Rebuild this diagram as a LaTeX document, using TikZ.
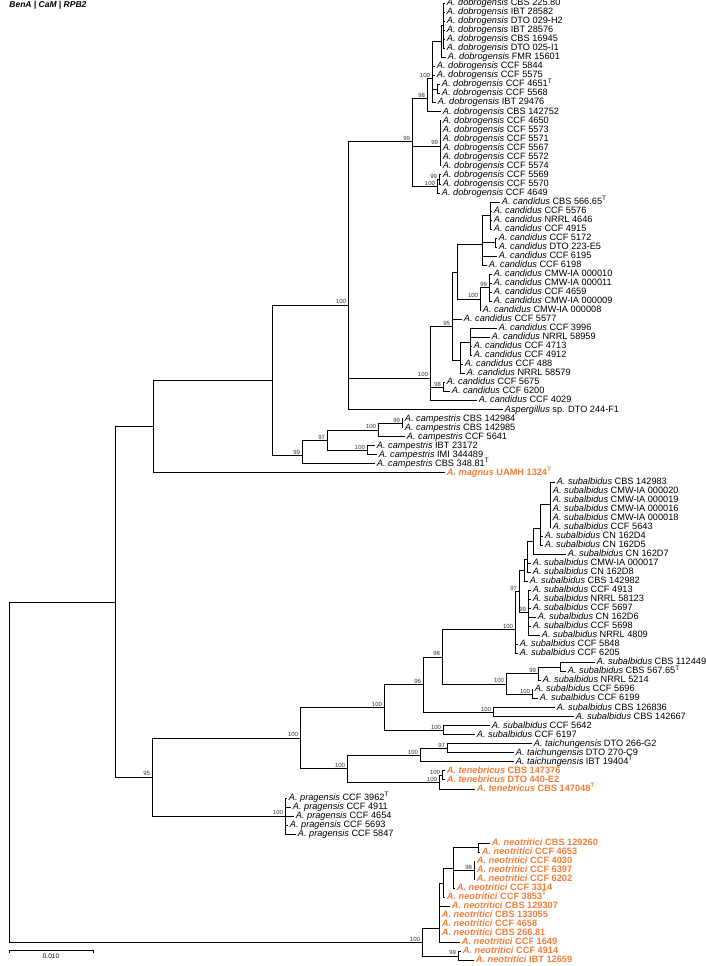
\documentclass[tikz,border=0pt]{standalone}
\usepackage{fontspec}
\setmainfont{Liberation Sans}
\definecolor{neworange}{RGB}{240,125,55}
\tikzset{
  leaf/.style={anchor=west, inner sep=1.5pt, text height=6.6pt, text depth=1.9pt, font=\fontsize{9.2}{10}\selectfont},
  newleaf/.style={leaf, text=neworange, font=\fontsize{9.2}{10}\selectfont\bfseries},
  bs/.style={anchor=south east, inner sep=0.6pt, xshift=-1pt, font=\fontsize{6}{6}\selectfont, text=black!80}
}
\newcommand\spc[1]{\textit{#1}}
\newcommand\tp{\textsuperscript{T}}
\begin{document}
\begin{tikzpicture}[x=1pt, y=-9.03pt, line width=0.8pt]
\useasboundingbox (0,0.6346) rectangle (705,107.61);
\node[anchor=west, inner sep=0, font=\fontsize{8.5}{9}\selectfont\bfseries\itshape] (title) at (9,1.2) {BenA | CaM | RPB2};

% leaves
\node[leaf] (l1) at (445,1) {\spc{A. dobrogensis} CBS 225.80};
\node[leaf] (l2) at (445,2) {\spc{A. dobrogensis} IBT 28582};
\node[leaf] (l3) at (445,3) {\spc{A. dobrogensis} DTO 029-H2};
\node[leaf] (l4) at (445,4) {\spc{A. dobrogensis} IBT 28576};
\node[leaf] (l5) at (445,5) {\spc{A. dobrogensis} CBS 16945};
\node[leaf] (l6) at (445,6) {\spc{A. dobrogensis} DTO 025-I1};
\node[leaf] (l7) at (446,7) {\spc{A. dobrogensis} FMR 15601};
\node[leaf] (l8) at (435,8) {\spc{A. dobrogensis} CCF 5844};
\node[leaf] (l9) at (435,9) {\spc{A. dobrogensis} CCF 5575};
\node[leaf] (l10) at (440,10) {\spc{A. dobrogensis} CCF 4651\tp};
\node[leaf] (l11) at (440,11) {\spc{A. dobrogensis} CCF 5568};
\node[leaf] (l12) at (436,12) {\spc{A. dobrogensis} IBT 29476};
\node[leaf] (l13) at (441,13) {\spc{A. dobrogensis} CBS 142752};
\node[leaf] (l14) at (441,14) {\spc{A. dobrogensis} CCF 4650};
\node[leaf] (l15) at (441,15) {\spc{A. dobrogensis} CCF 5573};
\node[leaf] (l16) at (441,16) {\spc{A. dobrogensis} CCF 5571};
\node[leaf] (l17) at (441,17) {\spc{A. dobrogensis} CCF 5567};
\node[leaf] (l18) at (441,18) {\spc{A. dobrogensis} CCF 5572};
\node[leaf] (l19) at (441,19) {\spc{A. dobrogensis} CCF 5574};
\node[leaf] (l20) at (441,20) {\spc{A. dobrogensis} CCF 5569};
\node[leaf] (l21) at (441,21) {\spc{A. dobrogensis} CCF 5570};
\node[leaf] (l22) at (440,22) {\spc{A. dobrogensis} CCF 4649};
\node[leaf] (l23) at (500,23) {\spc{A. candidus} CBS 566.65\tp};
\node[leaf] (l24) at (492,24) {\spc{A. candidus} CCF 5576};
\node[leaf] (l25) at (492,25) {\spc{A. candidus} NRRL 4646};
\node[leaf] (l26) at (492,26) {\spc{A. candidus} CCF 4915};
\node[leaf] (l27) at (497,27) {\spc{A. candidus} CCF 5172};
\node[leaf] (l28) at (497,28) {\spc{A. candidus} DTO 223-E5};
\node[leaf] (l29) at (497,29) {\spc{A. candidus} CCF 6195};
\node[leaf] (l30) at (487,30) {\spc{A. candidus} CCF 6198};
\node[leaf] (l31) at (492,31) {\spc{A. candidus} CMW-IA 000010};
\node[leaf] (l32) at (492,32) {\spc{A. candidus} CMW-IA 000011};
\node[leaf] (l33) at (492,33) {\spc{A. candidus} CCF 4659};
\node[leaf] (l34) at (492,34) {\spc{A. candidus} CMW-IA 000009};
\node[leaf] (l35) at (481,35) {\spc{A. candidus} CMW-IA 000008};
\node[leaf] (l36) at (462,36) {\spc{A. candidus} CCF 5577};
\node[leaf] (l37) at (497,37) {\spc{A. candidus} CCF 3996};
\node[leaf] (l38) at (490,38) {\spc{A. candidus} NRRL 58959};
\node[leaf] (l39) at (472,39) {\spc{A. candidus} CCF 4713};
\node[leaf] (l40) at (472,40) {\spc{A. candidus} CCF 4912};
\node[leaf] (l41) at (463,41) {\spc{A. candidus} CCF 488};
\node[leaf] (l42) at (465,42) {\spc{A. candidus} NRRL 58579};
\node[leaf] (l43) at (445,43) {\spc{A. candidus} CCF 5675};
\node[leaf] (l44) at (450,44) {\spc{A. candidus} CCF 6200};
\node[leaf] (l45) at (477,45) {\spc{A. candidus} CCF 4029};
\node[leaf] (l46) at (503,46) {\spc{Aspergillus} sp. DTO 244-F1};
\node[leaf] (l47) at (403,47) {\spc{A. campestris} CBS 142984};
\node[leaf] (l48) at (403,48) {\spc{A. campestris} CBS 142985};
\node[leaf] (l49) at (405,49) {\spc{A. campestris} CCF 5641};
\node[leaf] (l50) at (375,50) {\spc{A. campestris} IBT 23172};
\node[leaf] (l51) at (377,51) {\spc{A. campestris} IMI 344489};
\node[leaf] (l52) at (375,52) {\spc{A. campestris} CBS 348.81\tp};
\node[newleaf] (l53) at (445,53) {\spc{A. magnus} UAMH 1324\tp};
\node[leaf] (l54) at (555,54) {\spc{A. subalbidus} CBS 142983};
\node[leaf] (l55) at (551,55) {\spc{A. subalbidus} CMW-IA 000020};
\node[leaf] (l56) at (551,56) {\spc{A. subalbidus} CMW-IA 000019};
\node[leaf] (l57) at (551,57) {\spc{A. subalbidus} CMW-IA 000016};
\node[leaf] (l58) at (551,58) {\spc{A. subalbidus} CMW-IA 000018};
\node[leaf] (l59) at (551,59) {\spc{A. subalbidus} CCF 5643};
\node[leaf] (l60) at (543,60) {\spc{A. subalbidus} CN 162D4};
\node[leaf] (l61) at (543,61) {\spc{A. subalbidus} CN 162D5};
\node[leaf] (l62) at (566,62) {\spc{A. subalbidus} CN 162D7};
\node[leaf] (l63) at (531,63) {\spc{A. subalbidus} CMW-IA 000017};
\node[leaf] (l64) at (531,64) {\spc{A. subalbidus} CN 162D8};
\node[leaf] (l65) at (528,65) {\spc{A. subalbidus} CBS 142982};
\node[leaf] (l66) at (531,66) {\spc{A. subalbidus} CCF 4913};
\node[leaf] (l67) at (531,67) {\spc{A. subalbidus} NRRL 58123};
\node[leaf] (l68) at (531,68) {\spc{A. subalbidus} CCF 5697};
\node[leaf] (l69) at (536,69) {\spc{A. subalbidus} CN 162D6};
\node[leaf] (l70) at (531,70) {\spc{A. subalbidus} CCF 5698};
\node[leaf] (l71) at (540,71) {\spc{A. subalbidus} NRRL 4809};
\node[leaf] (l72) at (518,72) {\spc{A. subalbidus} CCF 5848};
\node[leaf] (l73) at (518,73) {\spc{A. subalbidus} CCF 6205};
\node[leaf] (l74) at (595,74) {\spc{A. subalbidus} CBS 112449};
\node[leaf] (l75) at (566,75) {\spc{A. subalbidus} CBS 567.65\tp};
\node[leaf] (l76) at (541,76) {\spc{A. subalbidus} NRRL 5214};
\node[leaf] (l77) at (533,77) {\spc{A. subalbidus} CCF 5696};
\node[leaf] (l78) at (538,78) {\spc{A. subalbidus} CCF 6199};
\node[leaf] (l79) at (555,79) {\spc{A. subalbidus} CBS 126836};
\node[leaf] (l80) at (574,80) {\spc{A. subalbidus} CBS 142667};
\node[leaf] (l81) at (490,81) {\spc{A. subalbidus} CCF 5642};
\node[leaf] (l82) at (475,82) {\spc{A. subalbidus} CCF 6197};
\node[leaf] (l83) at (532,83) {\spc{A. taichungensis} DTO 266-G2};
\node[leaf] (l84) at (514,84) {\spc{A. taichungensis} DTO 270-C9};
\node[leaf] (l85) at (514,85) {\spc{A. taichungensis} IBT 19404\tp};
\node[newleaf] (l86) at (445,86) {\spc{A. tenebricus} CBS 147376};
\node[newleaf] (l87) at (445,87) {\spc{A. tenebricus} DTO 440-E2};
\node[newleaf] (l88) at (475,88) {\spc{A. tenebricus} CBS 147048\tp};
\node[leaf] (l89) at (287,89) {\spc{A. pragensis} CCF 3962\tp};
\node[leaf] (l90) at (291,90) {\spc{A. pragensis} CCF 4911};
\node[leaf] (l91) at (294,91) {\spc{A. pragensis} CCF 4654};
\node[leaf] (l92) at (288,92) {\spc{A. pragensis} CCF 5693};
\node[leaf] (l93) at (296,93) {\spc{A. pragensis} CCF 5847};
\node[newleaf] (l94) at (490,94) {\spc{A. neotritici} CBS 129260};
\node[newleaf] (l95) at (480,95) {\spc{A. neotritici} CCF 4653};
\node[newleaf] (l96) at (475,96) {\spc{A. neotritici} CCF 4030};
\node[newleaf] (l97) at (475,97) {\spc{A. neotritici} CCF 6397};
\node[newleaf] (l98) at (475,98) {\spc{A. neotritici} CCF 6202};
\node[newleaf] (l99) at (455,99) {\spc{A. neotritici} CCF 3314};
\node[newleaf] (l100) at (445,100) {\spc{A. neotritici} CCF 3853\tp};
\node[newleaf] (l101) at (450,101) {\spc{A. neotritici} CBS 129307};
\node[newleaf] (l102) at (440,102) {\spc{A. neotritici} CBS 133055};
\node[newleaf] (l103) at (440,103) {\spc{A. neotritici} CCF 4658};
\node[newleaf] (l104) at (440,104) {\spc{A. neotritici} CBS 266.81};
\node[newleaf] (l105) at (460,105) {\spc{A. neotritici} CCF 1649};
\node[newleaf] (l106) at (461,106) {\spc{A. neotritici} CCF 4914};
\node[newleaf] (l107) at (474,107) {\spc{A. neotritici} IBT 12659};

% internal nodes (x in px, y in leaf rows)
\coordinate (dobA) at (443,3.5);
\coordinate (dobB) at (441,5.25);
\coordinate (dobC) at (437,10.5);
\coordinate (dobD) at (432,9.3);
\coordinate (dobE) at (427,11.5);
\coordinate (dobF) at (440,16.8);
\coordinate (dobG) at (439,20.5);
\coordinate (dobH) at (437,21.25);
\coordinate (dob) at (412,16.3);
\coordinate (canA) at (490,24.5);
\coordinate (canB) at (495,27.5);
\coordinate (canC) at (482,27.75);
\coordinate (canD) at (489,32.5);
\coordinate (canE) at (480,33.75);
\coordinate (canF) at (457,30.75);
\coordinate (canG) at (470,38.5);
\coordinate (canH) at (460,40.5);
\coordinate (canI) at (452,36.8);
\coordinate (canJ) at (443,43.5);
\coordinate (can) at (430,42.5);
\coordinate (dc) at (348,34.4);
\coordinate (camA) at (402,47.5);
\coordinate (camB) at (378,48.25);
\coordinate (camC) at (367,50.5);
\coordinate (camD) at (327,49.38);
\coordinate (cam) at (302,51.1);
\coordinate (upA) at (272,42.75);
\coordinate (up) at (153,47.9);
\coordinate (subA) at (550,56.5);
\coordinate (subB) at (540,59.17);
\coordinate (subC) at (533,60.58);
\coordinate (subD) at (527,62.53);
\coordinate (subE) at (524,63.76);
\coordinate (subF) at (528,68.5);
\coordinate (subG) at (519,66.13);
\coordinate (subH) at (515,70.38);
\coordinate (subI) at (560,74.5);
\coordinate (subJ) at (538,75.25);
\coordinate (subK) at (532,77.5);
\coordinate (subL) at (506,76.38);
\coordinate (subM) at (442,73.38);
\coordinate (subN) at (493,79.5);
\coordinate (subO) at (423,76.44);
\coordinate (subP) at (443,81.5);
\coordinate (sub) at (384,78.97);
\coordinate (taiA) at (447,83.5);
\coordinate (tai) at (420,84.25);
\coordinate (tenA) at (442,86.5);
\coordinate (ten) at (439,87.25);
\coordinate (tt) at (347,85.75);
\coordinate (stt) at (300,82.36);
\coordinate (pra) at (285,91);
\coordinate (low) at (152,86.68);
\coordinate (top) at (115,67.3);
\coordinate (neoA) at (478,94.5);
\coordinate (neoB) at (474,97);
\coordinate (neoC) at (453,96.83);
\coordinate (neoD) at (443,98.42);
\coordinate (neoE) at (439,103.4);
\coordinate (neoF) at (458,106.5);
\coordinate (neo) at (422,105);
\coordinate (root) at (9,86);

% branches
\draw (dobA) |- (l1) (dobA) |- (l2) (dobA) |- (l3) (dobA) |- (l4) (dobA) |- (l5) (dobA) |- (l6);
\draw (dobB) |- (dobA) (dobB) |- (l7);
\draw (dobC) |- (l10) (dobC) |- (l11);
\draw (dobD) |- (dobB) (dobD) |- (l8) (dobD) |- (l9) (dobD) |- (dobC) (dobD) |- (l12);
\draw (dobE) |- (dobD) (dobE) |- (l13);
\draw (dobF) |- (l14) (dobF) |- (l15) (dobF) |- (l16) (dobF) |- (l17) (dobF) |- (l18) (dobF) |- (l19);
\draw (dobG) |- (l20) (dobG) |- (l21);
\draw (dobH) |- (dobG) (dobH) |- (l22);
\draw (dob) |- (dobE) (dob) |- (dobF) (dob) |- (dobH);
\draw (canA) |- (l23) (canA) |- (l24) (canA) |- (l25) (canA) |- (l26);
\draw (canB) |- (l27) (canB) |- (l28);
\draw (canC) |- (canA) (canC) |- (canB) (canC) |- (l29) (canC) |- (l30);
\draw (canD) |- (l31) (canD) |- (l32) (canD) |- (l33) (canD) |- (l34);
\draw (canE) |- (canD) (canE) |- (l35);
\draw (canF) |- (canC) (canF) |- (canE);
\draw (canG) |- (l37) (canG) |- (l38) (canG) |- (l39) (canG) |- (l40);
\draw (canH) |- (canG) (canH) |- (l41) (canH) |- (l42);
\draw (canI) |- (canF) (canI) |- (l36) (canI) |- (canH);
\draw (canJ) |- (l43) (canJ) |- (l44);
\draw (can) |- (canI) (can) |- (canJ) (can) |- (l45);
\draw (dc) |- (dob) (dc) |- (can) (dc) |- (l46);
\draw (camA) |- (l47) (camA) |- (l48);
\draw (camB) |- (camA) (camB) |- (l49);
\draw (camC) |- (l50) (camC) |- (l51);
\draw (camD) |- (camB) (camD) |- (camC);
\draw (cam) |- (camD) (cam) |- (l52);
\draw (upA) |- (dc) (upA) |- (cam);
\draw (up) |- (upA) (up) |- (l53);
\draw (subA) |- (l54) (subA) |- (l55) (subA) |- (l56) (subA) |- (l57) (subA) |- (l58) (subA) |- (l59);
\draw (subB) |- (subA) (subB) |- (l60) (subB) |- (l61);
\draw (subC) |- (subB) (subC) |- (l62);
\draw (subD) |- (subC) (subD) |- (l63) (subD) |- (l64);
\draw (subE) |- (subD) (subE) |- (l65);
\draw (subF) |- (l66) (subF) |- (l67) (subF) |- (l68) (subF) |- (l69) (subF) |- (l70) (subF) |- (l71);
\draw (subG) |- (subE) (subG) |- (subF);
\draw (subH) |- (subG) (subH) |- (l72) (subH) |- (l73);
\draw (subI) |- (l74) (subI) |- (l75);
\draw (subJ) |- (subI) (subJ) |- (l76);
\draw (subK) |- (l77) (subK) |- (l78);
\draw (subL) |- (subJ) (subL) |- (subK);
\draw (subM) |- (subH) (subM) |- (subL);
\draw (subN) |- (l79) (subN) |- (l80);
\draw (subO) |- (subM) (subO) |- (subN);
\draw (subP) |- (l81) (subP) |- (l82);
\draw (sub) |- (subO) (sub) |- (subP);
\draw (taiA) |- (l83) (taiA) |- (l84);
\draw (tai) |- (taiA) (tai) |- (l85);
\draw (tenA) |- (l86) (tenA) |- (l87);
\draw (ten) |- (tenA) (ten) |- (l88);
\draw (tt) |- (tai) (tt) |- (ten);
\draw (stt) |- (sub) (stt) |- (tt);
\draw (pra) |- (l89) (pra) |- (l90) (pra) |- (l91) (pra) |- (l92) (pra) |- (l93);
\draw (low) |- (stt) (low) |- (pra);
\draw (top) |- (up) (top) |- (low);
\draw (neoA) |- (l94) (neoA) |- (l95);
\draw (neoB) |- (l96) (neoB) |- (l97) (neoB) |- (l98);
\draw (neoC) |- (neoA) (neoC) |- (neoB) (neoC) |- (l99);
\draw (neoD) |- (neoC) (neoD) |- (l100);
\draw (neoE) |- (neoD) (neoE) |- (l101) (neoE) |- (l102) (neoE) |- (l103) (neoE) |- (l104) (neoE) |- (l105);
\draw (neoF) |- (l106) (neoF) |- (l107);
\draw (neo) |- (neoE) (neo) |- (neoF);
\draw (root) |- (top) (root) |- (neo);

% support values
\node[bs] (b1) at (dob) {99};
\node[bs] (b2) at (dobE) {98};
\node[bs] (b3) at (dobD) {100};
\node[bs] (b4) at (dobF) {99};
\node[bs] (b5) at (dobG) {99};
\node[bs] (b6) at (dobH) {100};
\node[bs] (b7) at (canD) {99};
\node[bs] (b8) at (canE) {100};
\node[bs] (b9) at (canI) {95};
\node[bs] (b10) at (canJ) {98};
\node[bs] (b11) at (can) {100};
\node[bs] (b12) at (dc) {100};
\node[bs] (b13) at (camA) {99};
\node[bs] (b14) at (camB) {100};
\node[bs] (b15) at (camC) {100};
\node[bs] (b16) at (camD) {97};
\node[bs] (b17) at (cam) {99};
\node[bs] (b18) at (subG) {97};
\node[bs] (b19) at (subF) {99};
\node[bs] (b20) at (subH) {100};
\node[bs] (b21) at (subJ) {99};
\node[bs] (b22) at (subL) {100};
\node[bs] (b23) at (subK) {100};
\node[bs] (b24) at (subM) {98};
\node[bs] (b25) at (subN) {100};
\node[bs] (b26) at (subO) {96};
\node[bs] (b27) at (subP) {100};
\node[bs] (b28) at (sub) {100};
\node[bs] (b29) at (taiA) {97};
\node[bs] (b30) at (tai) {100};
\node[bs] (b31) at (tenA) {100};
\node[bs] (b32) at (ten) {100};
\node[bs] (b33) at (tt) {100};
\node[bs] (b34) at (stt) {100};
\node[bs] (b35) at (pra) {100};
\node[bs] (b36) at (low) {95};
\node[bs] (b37) at (neoB) {98};
\node[bs] (b38) at (neoF) {99};
\node[bs] (b39) at (neo) {100};

% scale bar
\coordinate (sbl) at (9,105.92);
\coordinate (sbr) at (93,105.92);
\draw[line width=0.7pt] ([yshift=-2.5pt]sbl) -- (sbl) -- (sbr) -- ([yshift=-2.5pt]sbr);
\node[anchor=north, inner sep=0, font=\fontsize{6.5}{7}\selectfont] (sbt) at (51,106.25) {0.010};
\end{tikzpicture}
\end{document}
